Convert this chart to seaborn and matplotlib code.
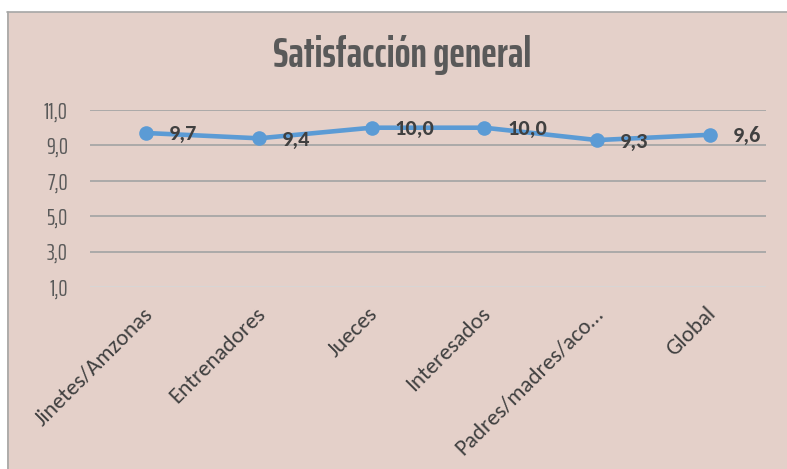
import matplotlib
matplotlib.use("Agg")
import matplotlib.pyplot as plt
from matplotlib.patches import Rectangle
import matplotlib.transforms as mtransforms
import seaborn as sns
import pandas as pd

categories = ["Jinetes/Amzonas", "Entrenadores", "Jueces", "Interesados",
              "Padres/madres/aco…", "Global"]
values = [9.7, 9.4, 10.0, 10.0, 9.3, 9.6]
yticks = [1, 3, 5, 7, 9, 11]
title = "Satisfacción general"

BG = "#E4D0C9"
LINE = "#5B9BD5"
COND = ["Saira ExtraCondensed", "Barlow Condensed", "DejaVu Sans"]
BODY = ["Carlito", "Open Sans", "DejaVu Sans"]

sns.set_theme(style="white")
plt.rcParams["font.family"] = ["DejaVu Sans"]

W, H = 787, 469
fig = plt.figure(figsize=(W / 100, H / 100), dpi=100)
fig.patch.set_facecolor("white")
fig.patch.set_linewidth(0)

# chart area box
fig.add_artist(Rectangle((7 / W, -0.1), 1.2, (H - 12) / H + 0.1,
                         transform=fig.transFigure, facecolor=BG,
                         edgecolor="none", linewidth=0, zorder=0))
fig.add_artist(plt.Line2D([7.5 / W, 7.5 / W], [0, (H - 12) / H],
                          transform=fig.transFigure, color="#A6A6A6", lw=1.2))
fig.add_artist(plt.Line2D([7 / W, 1.01], [(H - 12.5) / H, (H - 12.5) / H],
                          transform=fig.transFigure, color="#A6A6A6", lw=1.2))

left, right = 90 / W, 766 / W
bottom, top = (H - 287) / H, (H - 110) / H
ax = fig.add_axes([left, bottom, right - left, top - bottom])
ax.set_facecolor("none")

df = pd.DataFrame({"cat": categories, "val": values})
sns.lineplot(data=df, x="cat", y="val", ax=ax, color=LINE, lw=3.3,
             marker="o", markersize=10.5, markeredgewidth=0, sort=False)

ax.set_xlim(-0.5, len(categories) - 0.5)
ax.set_ylim(1, 11)
ax.set_yticks(yticks)
ax.set_yticklabels([f"{v:.1f}".replace(".", ",") for v in yticks],
                   family=COND, fontsize=16.5, color="#595959")
ax.set_xticks(range(len(categories)))
ax.set_xticklabels(categories, rotation=45, ha="right", va="top",
                   rotation_mode="anchor", family=BODY,
                   fontsize=16.5, color="#404040")
ax.tick_params(axis="y", length=0, pad=16)
ax.tick_params(axis="x", length=0, pad=12)
shift = mtransforms.ScaledTranslation(-4 / 100, 0, fig.dpi_scale_trans)
for lab in ax.get_xticklabels():
    lab.set_transform(lab.get_transform() + shift)
ax.set_xlabel("")
ax.set_ylabel("")

ax.yaxis.grid(True, color="#A6A6A6", lw=1.3)
ax.set_axisbelow(True)
for sp in ["left", "right", "top", "bottom"]:
    ax.spines[sp].set_visible(False)
gl = ax.get_ygridlines()
gl[0].set_color("#D6D6D6")

for i, v in enumerate(values):
    ax.annotate(f"{v:.1f}".replace(".", ","), (i, v), xytext=(16.5, -1),
                textcoords="offset points", ha="left", va="center",
                family=BODY, fontsize=16, fontweight="bold", color="#404040")

fig.text(402 / W, (H - 55) / H, title, ha="center", va="center",
         family=COND, fontweight="bold", fontsize=30, color="#595959")

fig.savefig("out.png", dpi=100, facecolor=fig.get_facecolor())
